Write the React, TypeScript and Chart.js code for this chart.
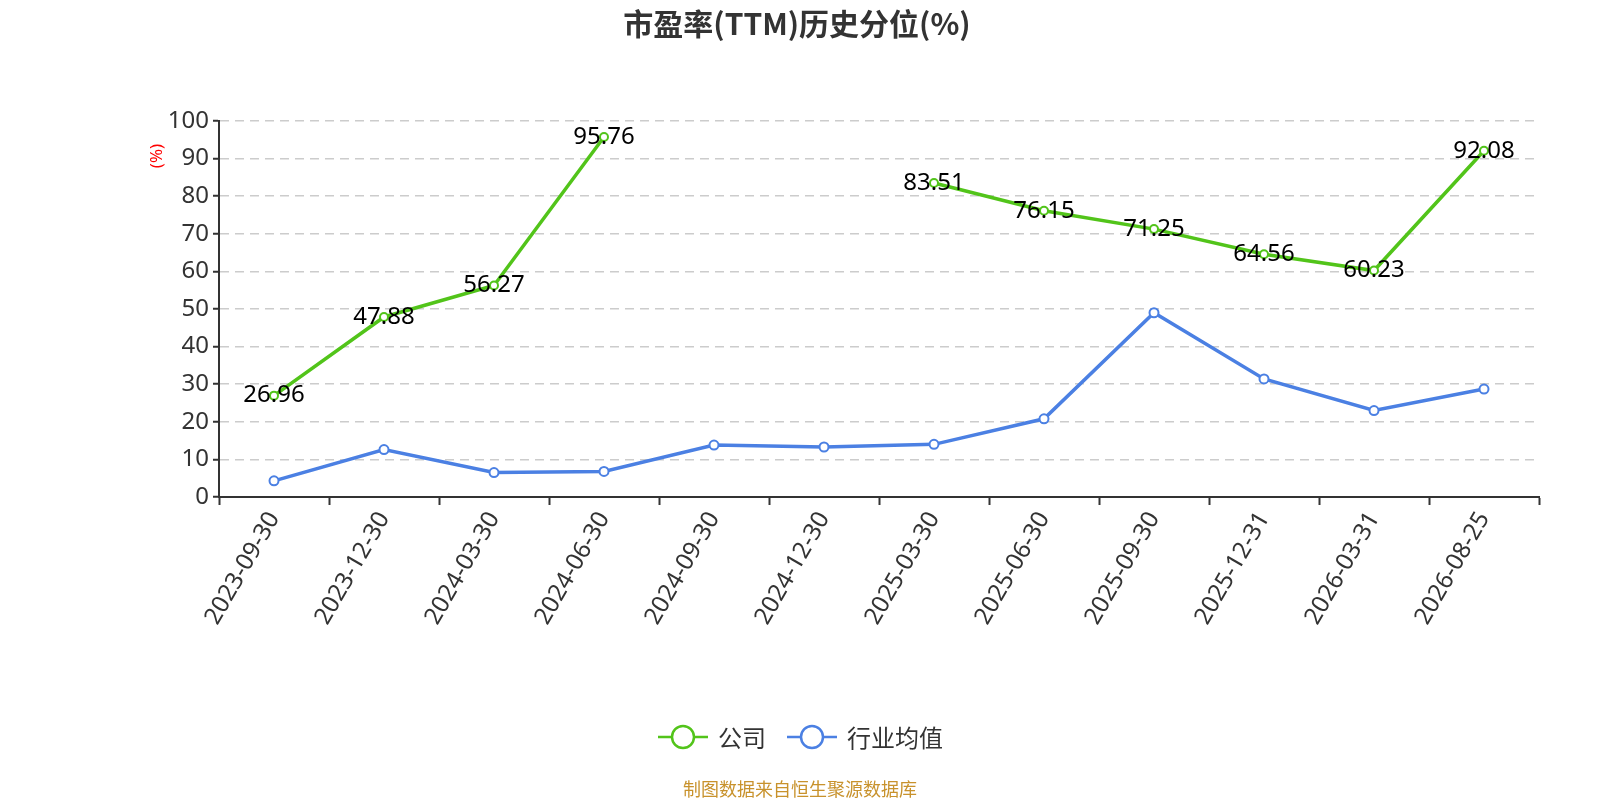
import React, { useEffect, useRef } from "react";
import Chart from "chart.js/auto";

const categories = [
  "2023-09-30", "2023-12-30", "2024-03-30", "2024-06-30", "2024-09-30", "2024-12-30",
  "2025-03-30", "2025-06-30", "2025-09-30", "2025-12-31", "2026-03-31", "2026-08-25",
];
const companyValues = [26.96, 47.88, 56.27, 95.76, null, null, 83.51, 76.15, 71.25, 64.56, 60.23, 92.08];
const industryValues = [4.3, 12.6, 6.5, 6.8, 13.8, 13.3, 14.0, 20.8, 49.0, 31.4, 23.0, 28.7];
const legendLabels = ["公司", "行业均值"];

const GREEN = "#52c41a";
const BLUE = "#4b80e3";
const FONT = "'Noto Sans', 'Noto Sans CJK SC', sans-serif";
const CJK = "'Noto Sans CJK SC', 'Noto Sans', sans-serif";

const decorPlugin = {
  id: "decor",
  afterDatasetsDraw(chart) {
    const ctx = chart.ctx;
    // value labels on company line
    const meta = chart.getDatasetMeta(0);
    ctx.save();
    ctx.font = `24px ${FONT}`;
    ctx.fillStyle = "#000";
    ctx.textAlign = "center";
    ctx.textBaseline = "middle";
    meta.data.forEach((pt, i) => {
      const v = companyValues[i];
      if (v == null) return;
      ctx.fillText(v.toFixed(2), pt.x, pt.y);
    });
    ctx.restore();
  },
  afterDraw(chart) {
    const ctx = chart.ctx;
    ctx.save();
    // title
    ctx.font = `bold 30px ${CJK}`;
    ctx.fillStyle = "#333";
    ctx.textAlign = "center";
    ctx.textBaseline = "middle";
    ctx.fillText("市盈率(TTM)历史分位(%)", 797, 24);

    // y unit
    ctx.save();
    ctx.translate(157, 156);
    ctx.rotate(-Math.PI / 2);
    ctx.font = `17px ${FONT}`;
    ctx.fillStyle = "#ff0000";
    ctx.fillText("(%)", 0, 0);
    ctx.restore();

    // legend
    const items = [
      { x: 658, color: GREEN, label: legendLabels[0] },
      { x: 787, color: BLUE, label: legendLabels[1] },
    ];
    const ly = 737;
    items.forEach((it) => {
      ctx.strokeStyle = it.color;
      ctx.lineWidth = 2.5;
      ctx.beginPath();
      ctx.moveTo(it.x, ly);
      ctx.lineTo(it.x + 50, ly);
      ctx.stroke();
      ctx.beginPath();
      ctx.arc(it.x + 25, ly, 11, 0, Math.PI * 2);
      ctx.fillStyle = "#fff";
      ctx.fill();
      ctx.stroke();
      ctx.font = `24px ${CJK}`;
      ctx.fillStyle = "#333";
      ctx.textAlign = "left";
      ctx.fillText(it.label, it.x + 60, ly + 1);
    });

    // footer
    ctx.font = `18px ${CJK}`;
    ctx.fillStyle = "#c8922c";
    ctx.textAlign = "center";
    ctx.fillText("制图数据来自恒生聚源数据库", 800, 789);
    ctx.restore();
  },
};

const App = () => {
  const canvasRef = useRef(null);
  const chartRef = useRef(null);

  useEffect(() => {
    if (chartRef.current) chartRef.current.destroy();
    const ctx = canvasRef.current.getContext("2d");
    chartRef.current = new Chart(ctx, {
      type: "line",
      data: {
        labels: categories,
        datasets: [
          {
            label: legendLabels[0],
            data: companyValues,
            borderColor: GREEN,
            backgroundColor: "#fff",
            borderWidth: 3.5,
            pointRadius: 4,
            pointBorderWidth: 2,
            pointBorderColor: GREEN,
            pointBackgroundColor: "#fff",
            spanGaps: false,
            tension: 0,
          },
          {
            label: legendLabels[1],
            data: industryValues,
            borderColor: BLUE,
            backgroundColor: "#fff",
            borderWidth: 3.5,
            pointRadius: 4.5,
            pointBorderWidth: 2,
            pointBorderColor: BLUE,
            pointBackgroundColor: "#fff",
            tension: 0,
          },
        ],
      },
      options: {
        responsive: false,
        animation: false,
        layout: { padding: { top: 121, left: 0, right: 61, bottom: 153 } },
        plugins: {
          legend: { display: false },
          title: { display: false },
          tooltip: { enabled: false },
        },
        scales: {
          x: {
            offset: true,
            afterFit: (s) => { s.height = 150; },
            grid: {
              offset: true,
              drawOnChartArea: false,
              tickColor: "#333",
              tickLength: 8,
              tickWidth: 2,
            },
            border: { color: "#333", width: 2 },
            ticks: {
              color: "#333",
              font: { size: 24, family: FONT },
              minRotation: 60,
              maxRotation: 60,
              autoSkip: false,
              padding: 2,
            },
          },
          y: {
            min: 0,
            max: 100,
            afterFit: (s) => { s.width = 219; },
            grid: {
              color: "#cccccc",
              lineWidth: 1.5,
              tickColor: "#333",
              tickLength: 6,
              tickWidth: 2,
              tickBorderDash: [],
            },
            border: { color: "#333", width: 2, dash: [9, 6] },
            ticks: {
              stepSize: 10,
              color: "#333",
              font: { size: 24, family: FONT },
              padding: 4,
            },
          },
        },
      },
      plugins: [decorPlugin],
    });
    return () => {
      if (chartRef.current) {
        chartRef.current.destroy();
        chartRef.current = null;
      }
    };
  }, []);

  return (
    <div style={{ position: "fixed", left: 0, top: 0, width: 1600, height: 800, background: "#fff" }}>
      <canvas ref={canvasRef} width={1600} height={800} style={{ width: 1600, height: 800 }} />
    </div>
  );
};

export default App;
